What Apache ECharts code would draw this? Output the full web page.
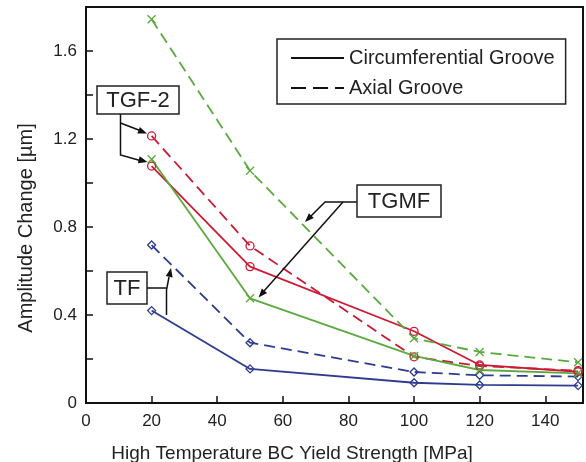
<!DOCTYPE html>
<html><head><meta charset="utf-8">
<script src="https://cdn.jsdelivr.net/npm/echarts@6/dist/echarts.min.js"></script>
<style>html,body{margin:0;padding:0;background:#fff}#c{width:586px;height:462px}</style>
</head><body><div id="c"></div>
<script>
var xValues = [20, 50, 100, 120, 150];
var tfCirc   = [0.42, 0.155, 0.092, 0.082, 0.079];
var tfAxial  = [0.718, 0.274, 0.141, 0.126, 0.12];
var tgfCirc  = [1.077, 0.62, 0.326, 0.173, 0.142];
var tgfAxial = [1.214, 0.714, 0.21, 0.168, 0.147];
var tgmfCirc = [1.108, 0.476, 0.214, 0.15, 0.135];
var tgmfAxial= [1.744, 1.056, 0.294, 0.232, 0.185];
var yTickLabels = ['0', '0.4', '0.8', '1.2', '1.6'];
var xTickLabels = ['0', '20', '40', '60', '80', '100', '120', '140'];

var FONT = 'Liberation Sans, Arial, sans-serif';
var BLUE = '#2e3b8e', RED = '#cc1a36', GREEN = '#5aaa3e';
var DASH = [11, 6];
var XSYM = 'path://M0,0L10,10M10,0L0,10';

function pairs(ys){ return xValues.map(function(x,i){ return [x, ys[i]]; }); }
function ser(name, ys, color, dashed, symbol, size){
  return {
    name: name, type: 'line', data: pairs(ys), symbol: symbol, symbolSize: size,
    lineStyle: {color: color, width: 1.8, type: dashed ? DASH : 'solid'},
    itemStyle: {color: 'rgba(255,255,255,0)', borderColor: color, borderWidth: 1.3},
    z: 3, silent: true, animation: false
  };
}
function arrowHead(tx, ty, fx, fy, len, w){
  var a = Math.atan2(ty - fy, tx - fx);
  var bx = tx - len*Math.cos(a), by = ty - len*Math.sin(a);
  var px = -Math.sin(a)*w, py = Math.cos(a)*w;
  return {type:'polygon', shape:{points:[[tx,ty],[bx+px,by+py],[bx-px,by-py]]}, style:{fill:'#111'}, z:10};
}
function seg(pts){ return {type:'polyline', shape:{points:pts}, style:{stroke:'#111', lineWidth:1.5, fill:null}, z:10}; }
function box(x,y,w,h,label){
  return [
    {type:'rect', shape:{x:x,y:y,width:w,height:h}, style:{fill:'#fff', stroke:'#222', lineWidth:1.5}, z:11},
    {type:'text', x:x+w/2, y:y+h/2+1, style:{text:label, font:'22px '+FONT, fill:'#222', textAlign:'center', textVerticalAlign:'middle'}, z:12}
  ];
}

var chart = echarts.init(document.getElementById('c'), null, {renderer:'canvas'});
var g = [];
g = g.concat(box(97, 86, 82, 28, 'TGF-2'));
g.push(seg([[120.5,114],[120.5,155],[140,160.5]]));
g.push(arrowHead(147.5,162,120.5,155,9,3.5));
g.push(seg([[120.5,123],[140,130.5]]));
g.push(arrowHead(147,133.5,120.5,123,9,3.5));
g = g.concat(box(357, 185, 84, 32, 'TGMF'));
g.push(seg([[357,202],[325,202],[311,216]]));
g.push(arrowHead(305,222,325,202,9,3.5));
g.push(seg([[343,202],[264,291]]));
g.push(arrowHead(258.5,297.5,343,202,9,3.5));
g = g.concat(box(107, 272, 40, 32, 'TF'));
g.push(seg([[147,288],[166.5,288]]));
g.push(seg([[166.5,315],[166.5,290],[169,277]]));
g.push(arrowHead(171,268,166.5,290,9,3.5));
g.push({type:'text', x:26, y:228, rotation:Math.PI/2, style:{text:'Amplitude Change [\u00b5m]', font:'20px '+FONT, fill:'#222', textAlign:'center', textVerticalAlign:'middle'}});
g.push({type:'text', x:292, y:454, style:{text:'High Temperature BC Yield Strength [MPa]', font:'19px '+FONT, fill:'#222', textAlign:'center', textVerticalAlign:'middle'}});

chart.setOption({
  animation: false,
  backgroundColor: '#fff',
  textStyle: {fontFamily: FONT},
  grid: {left: 86, top: 7, right: 3, bottom: 59, show: true, borderColor: '#111', borderWidth: 2, backgroundColor: 'transparent'},
  legend: {
    orient: 'vertical', left: 277, top: 39,
    data: ['Circumferential Groove', 'Axial Groove'],
    itemWidth: 53, itemHeight: 14, itemGap: 10,
    padding: [9, 11, 6, 13],
    borderColor: '#222', borderWidth: 1.5, backgroundColor: '#fff',
    itemStyle: {opacity: 0},
    textStyle: {fontSize: 20, color: '#222', fontFamily: FONT},
    selectedMode: false
  },
  xAxis: {
    type: 'value', min: 0, max: 151.5, interval: 20,
    axisLine: {show: true, lineStyle: {color: '#111', width: 2}},
    axisTick: {show: true, inside: true, length: 7, lineStyle: {color: '#111', width: 1.5}},
    axisLabel: {fontSize: 17, color: '#222', margin: 10, fontFamily: FONT,
      formatter: function(v){ var i = Math.round(v/20); return xTickLabels[i] !== undefined && Math.abs(i*20 - v) < 1e-6 ? xTickLabels[i] : ''; }},
    splitLine: {show: false}
  },
  yAxis: {
    type: 'value', min: 0, max: 1.8, interval: 0.2,
    axisLine: {show: true, lineStyle: {color: '#111', width: 2}},
    axisTick: {show: true, inside: true, length: 7, lineStyle: {color: '#111', width: 1.5}},
    axisLabel: {fontSize: 17, color: '#222', margin: 9, fontFamily: FONT,
      formatter: function(v){ var i = Math.round(v/0.4); return Math.abs(i*0.4 - v) < 1e-6 && yTickLabels[i] !== undefined ? yTickLabels[i] : ''; }},
    splitLine: {show: false}
  },
  series: [
    {name:'Circumferential Groove', type:'line', data:[], symbol:'none', lineStyle:{color:'#111', width:1.5, type:'solid'}, itemStyle:{color:'#111'}},
    {name:'Axial Groove', type:'line', data:[], symbol:'none', lineStyle:{color:'#111', width:1.5, type:[15,7]}, itemStyle:{color:'#111'}},
    ser('TF circ', tfCirc, BLUE, false, 'diamond', 8),
    ser('TF axial', tfAxial, BLUE, true, 'diamond', 8),
    ser('TGF-2 circ', tgfCirc, RED, false, 'circle', 8),
    ser('TGF-2 axial', tgfAxial, RED, true, 'circle', 8),
    ser('TGMF circ', tgmfCirc, GREEN, false, XSYM, 8),
    ser('TGMF axial', tgmfAxial, GREEN, true, XSYM, 8)
  ],
  graphic: g
});
</script></body></html>
